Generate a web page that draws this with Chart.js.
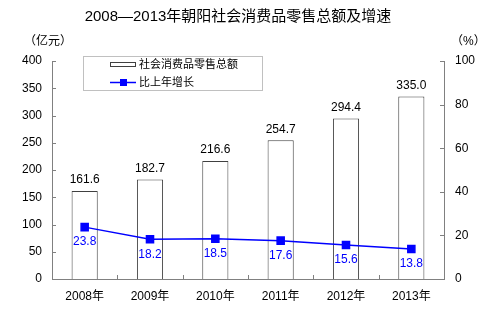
<!DOCTYPE html>
<html><head><meta charset="utf-8">
<script src="https://cdn.jsdelivr.net/npm/chart.js@4"></script>
<style>html,body{margin:0;padding:0;background:#fff}#wrap{width:482px;height:329px}</style>
</head><body><div id="wrap"><canvas id="c" width="482" height="329"></canvas></div>
<script>
const categories = ["2008年","2009年","2010年","2011年","2012年","2013年"];
const totalSales = [161.6, 182.7, 216.6, 254.7, 294.4, 335.0];
const growthRate = [23.8, 18.2, 18.5, 17.6, 15.6, 13.8];
const titleText = "2008—2013年朝阳社会消费品零售总额及增速";
const leftUnit = "（亿元）";
const rightUnit = "（%）";
const barLabel = "社会消费品零售总额";
const lineLabel = "比上年增长";

const FONT = "'Liberation Sans', Arial, 'Noto Sans CJK SC', sans-serif";
const AXIS = "#808080";

const deco = {
  id: 'deco',
  afterDraw(chart) {
    const ctx = chart.ctx;
    const xs = chart.scales.x, y = chart.scales.y, y1 = chart.scales.y1;
    const a = chart.chartArea;
    ctx.save();
    // title
    ctx.fillStyle = '#000';
    ctx.font = "15px " + FONT;
    ctx.textAlign = 'center'; ctx.textBaseline = 'middle';
    ctx.fillText(titleText, 238, 17);
    // units
    ctx.font = "12px " + FONT;
    ctx.textAlign = 'left';
    ctx.fillText(leftUnit, 24, 42);
    ctx.fillText(rightUnit, 451, 42);
    // tick marks
    ctx.strokeStyle = AXIS; ctx.lineWidth = 1;
    y.ticks.forEach(t => {
      const py = Math.round(y.getPixelForValue(t.value)) + 0.5;
      ctx.beginPath(); ctx.moveTo(a.left, py); ctx.lineTo(a.left + 4, py); ctx.stroke();
    });
    y1.ticks.forEach(t => {
      const py = Math.round(y1.getPixelForValue(t.value)) + 0.5;
      ctx.beginPath(); ctx.moveTo(a.right - 4, py); ctx.lineTo(a.right, py); ctx.stroke();
    });
    const step = (a.right - a.left) / categories.length;
    for (let i = 1; i < categories.length; i++) {
      const px = Math.round(a.left + step * i) + 0.5;
      ctx.beginPath(); ctx.moveTo(px, a.bottom); ctx.lineTo(px, a.bottom - 4); ctx.stroke();
    }
    // data labels
    ctx.font = "12px " + FONT;
    ctx.textAlign = 'center';
    const barMeta = chart.getDatasetMeta(0);
    barMeta.data.forEach((el, i) => {
      ctx.fillStyle = '#000';
      ctx.fillText(totalSales[i].toFixed(1), el.x, el.y - 11);
    });
    const lineMeta = chart.getDatasetMeta(1);
    lineMeta.data.forEach((el, i) => {
      ctx.fillStyle = '#0000FF';
      ctx.fillText(growthRate[i].toFixed(1), el.x, el.y + 15);
    });
    // legend
    ctx.fillStyle = '#fff';
    ctx.fillRect(83, 56, 179, 34);
    ctx.strokeStyle = '#808080';
    ctx.setLineDash([1, 1]);
    ctx.strokeRect(83.5, 56.5, 179, 34);
    ctx.setLineDash([]);
    ctx.strokeStyle = '#404040';
    ctx.strokeRect(110.5, 62.5, 25, 4);
    ctx.strokeStyle = '#0000FF'; ctx.lineWidth = 1.5;
    ctx.beginPath(); ctx.moveTo(110, 82.5); ctx.lineTo(136, 82.5); ctx.stroke();
    ctx.fillStyle = '#0000FF';
    ctx.fillRect(120, 79, 7, 7);
    ctx.fillStyle = '#000';
    ctx.font = "11px " + FONT;
    ctx.textAlign = 'left';
    ctx.fillText(barLabel, 139, 65);
    ctx.fillText(lineLabel, 139, 83);
    ctx.restore();
  }
};

new Chart(document.getElementById('c'), {
  data: {
    labels: categories,
    datasets: [
      { type: 'bar', label: barLabel, data: totalSales, yAxisID: 'y',
        backgroundColor: '#fff', borderColor: '#404040', borderWidth: 1,
        categoryPercentage: 1, barPercentage: 0.4, order: 2 },
      { type: 'line', label: lineLabel, data: growthRate, yAxisID: 'y1',
        borderColor: '#0000FF', borderWidth: 1.5, backgroundColor: '#0000FF',
        pointStyle: 'rect', pointRadius: 5, pointHoverRadius: 5, tension: 0, order: 1 }
    ]
  },
  options: {
    responsive: false, animation: false,
    layout: { padding: { top: 61, left: 0, right: 0, bottom: 0 } },
    plugins: { legend: { display: false }, title: { display: false }, tooltip: { enabled: false } },
    scales: {
      x: { grid: { display: false, drawTicks: false }, border: { color: AXIS },
        ticks: { color: '#000', font: { size: 12, family: FONT }, padding: 10 },
        afterFit(s) { s.height = 50; } },
      y: { position: 'left', min: 0, max: 400,
        grid: { display: false, drawTicks: false }, border: { color: AXIS },
        ticks: { stepSize: 50, color: '#000', font: { size: 12, family: FONT }, padding: 10 },
        afterFit(s) { s.width = 52; } },
      y1: { position: 'right', min: 0, max: 100,
        grid: { display: false, drawTicks: false }, border: { color: AXIS },
        ticks: { stepSize: 20, color: '#000', font: { size: 12, family: FONT }, padding: 11 },
        afterFit(s) { s.width = 38; } }
    }
  },
  plugins: [deco]
});
</script></body></html>
